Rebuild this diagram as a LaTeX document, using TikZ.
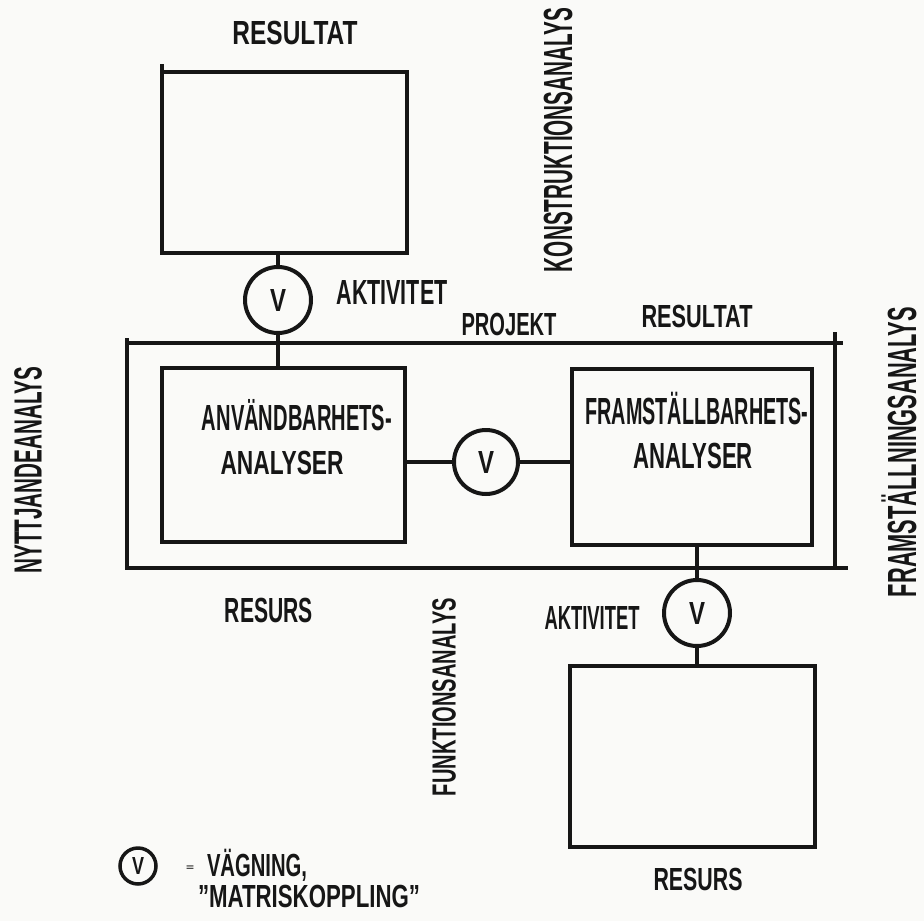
\documentclass[tikz,border=0pt]{standalone}
\usepackage{fontspec}
\setmainfont{Liberation Sans}
\usepackage{graphicx}
\definecolor{ink}{RGB}{22,22,22}
\definecolor{paper}{RGB}{250,250,248}
\newcommand{\hw}[3]{\resizebox{#1pt}{#2pt}{\raisebox{0pt}[\fontcharht\font`A][0pt]{#3}}}
\begin{document}
\begin{tikzpicture}[x=1pt,y=-1pt,
  box/.style={draw=ink, line width=4.5pt, inner sep=0pt, outer sep=0pt, rectangle},
  vcirc/.style={circle, draw=ink, line width=4pt, minimum size=66pt, inner sep=0pt, outer sep=0pt, text=ink, font=\bfseries},
  conn/.style={draw=ink, line width=4pt},
  edge/.style={draw=ink, line width=4.5pt},
  txt/.style={inner sep=0pt, outer sep=0pt, text=ink, font=\bfseries}]
\fill[paper] (0,0) rectangle (924,921);
\useasboundingbox (0,0) rectangle (924,921);

% boxes
\node[box, minimum width=245pt, minimum height=181pt] (tbox) at (284.5,162.5) {};
\node[box, minimum width=708pt, minimum height=225pt] (proj) at (481,455.5) {};
\node[box, minimum width=243pt, minimum height=174pt] (lbox) at (283.5,455) {};
\node[box, minimum width=240pt, minimum height=176pt] (rbox) at (692,457) {};
\node[box, minimum width=245pt, minimum height=181pt] (bbox) at (692.5,756.5) {};

% hand-drawn overshoots
\draw[edge] (tbox.north west) -- ++(0,-8);
\draw[edge] (proj.north west) -- ++(0,-5);
\draw[edge] (proj.north east) -- ++(8,0);
\draw[edge] (proj.north east) -- ++(0,-11);
\draw[edge] (proj.south east) -- ++(13,0);

% weighing circles
\node[vcirc] (c1) at (278,300) {\hw{16}{22}{V}};
\node[vcirc, minimum size=64pt] (c2) at (486,462) {\hw{16}{22}{V}};
\node[vcirc] (c3) at (697,613) {\hw{16}{22}{V}};

% connectors
\draw[conn] (c1) -- (c1 |- tbox.south);
\draw[conn] (c1) -- (c1 |- lbox.north);
\draw[conn] (c2) -- (c2 -| lbox.east);
\draw[conn] (c2) -- (c2 -| rbox.west);
\draw[conn] (c3) -- (c3 |- rbox.south);
\draw[conn] (c3) -- (c3 |- bbox.north);

% labels
\node[txt] (t1) at (295,33) {\hw{125}{23}{RESULTAT}};
\node[txt, rotate=90] (t2) at (558,140) {\hw{264}{28}{KONSTRUKTIONSANALYS}};
\node[txt] (t3) at (392,292) {\hw{111}{24}{AKTIVITET}};
\node[txt] (t4) at (509,324) {\hw{95}{22}{PROJEKT}};
\node[txt] (t5) at (697,316) {\hw{111}{22}{RESULTAT}};
\node[txt, rotate=90] (t6) at (902,452) {\hw{290}{28}{FRAMSTÄLLNINGSANALYS}};
\node[txt] (t7) at (297,418) {\hw{190}{25}{ANVÄNDBARHETS-}};
\node[txt] (t8) at (282,463) {\hw{123}{23}{ANALYSER}};
\node[txt] (t9) at (697,411) {\hw{223}{26}{FRAMSTÄLLBARHETS-}};
\node[txt] (t10) at (693,456) {\hw{120}{25}{ANALYSER}};
\node[txt] (t11) at (269,610) {\hw{88}{24}{RESURS}};
\node[txt, rotate=90] (t12) at (28,470) {\hw{207}{27}{NYTTJANDEANALYS}};
\node[txt, rotate=90] (t13) at (444,697) {\hw{198}{23}{FUNKTIONSANALYS}};
\node[txt] (t14) at (592,618) {\hw{95}{23}{AKTIVITET}};
\node[txt] (t15) at (698,879) {\hw{89}{22}{RESURS}};

% legend
\node[vcirc, minimum size=36pt, line width=3.5pt] (lc) at (138,866) {\hw{12}{17}{V}};
\node[txt] (leq) at (190,867) {\hw{8}{6}{=}};
\node[txt, anchor=west] (l1) at (207,865) {\hw{100}{22}{VÄGNING,}};
\node[txt] (l2) at (309,896) {\hw{222}{22}{”MATRISKOPPLING”}};
\end{tikzpicture}
\end{document}
